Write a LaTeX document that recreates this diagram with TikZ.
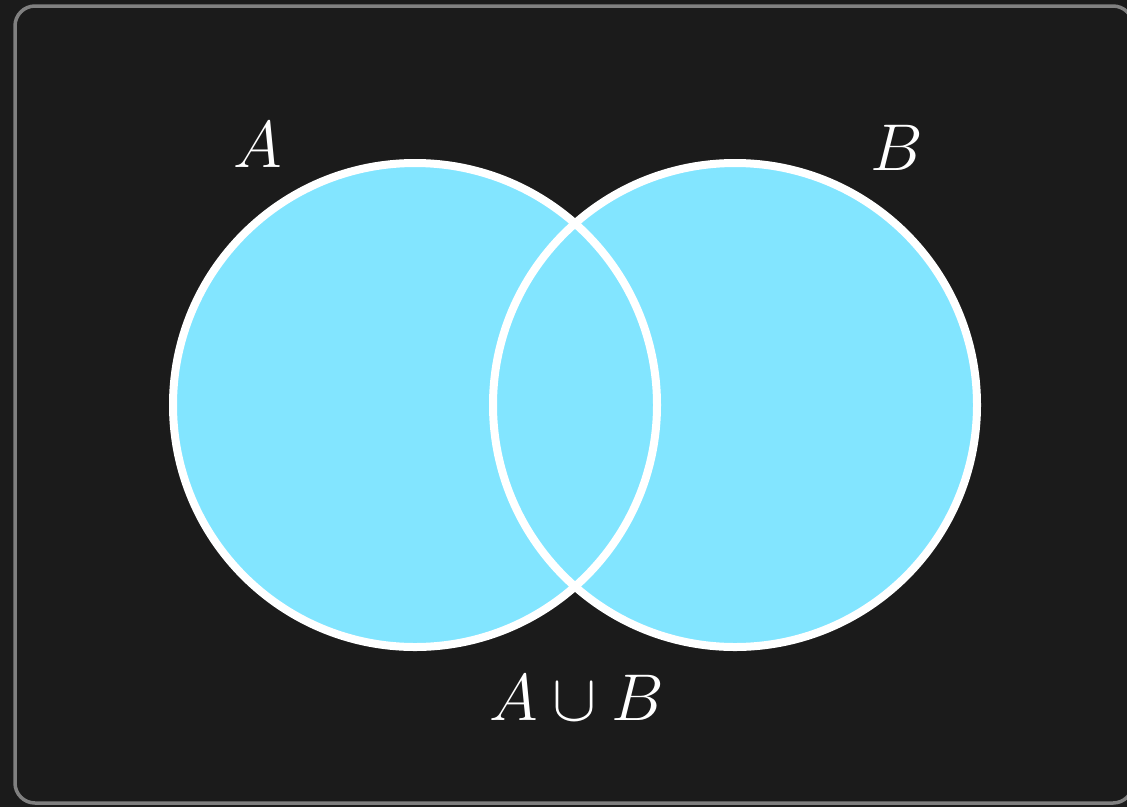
\documentclass[tikz,border=0pt]{standalone}
\usepackage{amsmath,amssymb}
\usetikzlibrary{positioning}

\definecolor{bgdark}{HTML}{1B1B1B}
\definecolor{framegray}{HTML}{808080}
\definecolor{setcyan}{HTML}{82E5FF}

\begin{document}
\begin{tikzpicture}[x=1pt, y=-1pt,
    setfill/.style={fill=setcyan},
    setline/.style={draw=white, line width=8pt},
    setlabel/.style={text=white, font=\Huge, scale=2.66}]
  \fill[bgdark] (0,0) rectangle (1127,807);
  \useasboundingbox (0,0) rectangle (1127,807);
  \clip (0,0) rectangle (1127,807);
  \draw[framegray, line width=3.5pt, rounded corners=20pt] (15,6) rectangle (1133,803);
  % the two sets
  \coordinate (ca) at (415,405);
  \coordinate (cb) at (735,405);
  \fill[setfill] (ca) circle[radius=242];
  \fill[setfill] (cb) circle[radius=242];
  \draw[setline] (ca) circle[radius=242];
  \draw[setline] (cb) circle[radius=242];
  % labels
  \node[setlabel] (la) at (258,145) {$A$};
  \node[setlabel] (lb) at (897,148) {$B$};
  \node[setlabel] (lu) at (577,698) {$A\cup B$};
\end{tikzpicture}
\end{document}
